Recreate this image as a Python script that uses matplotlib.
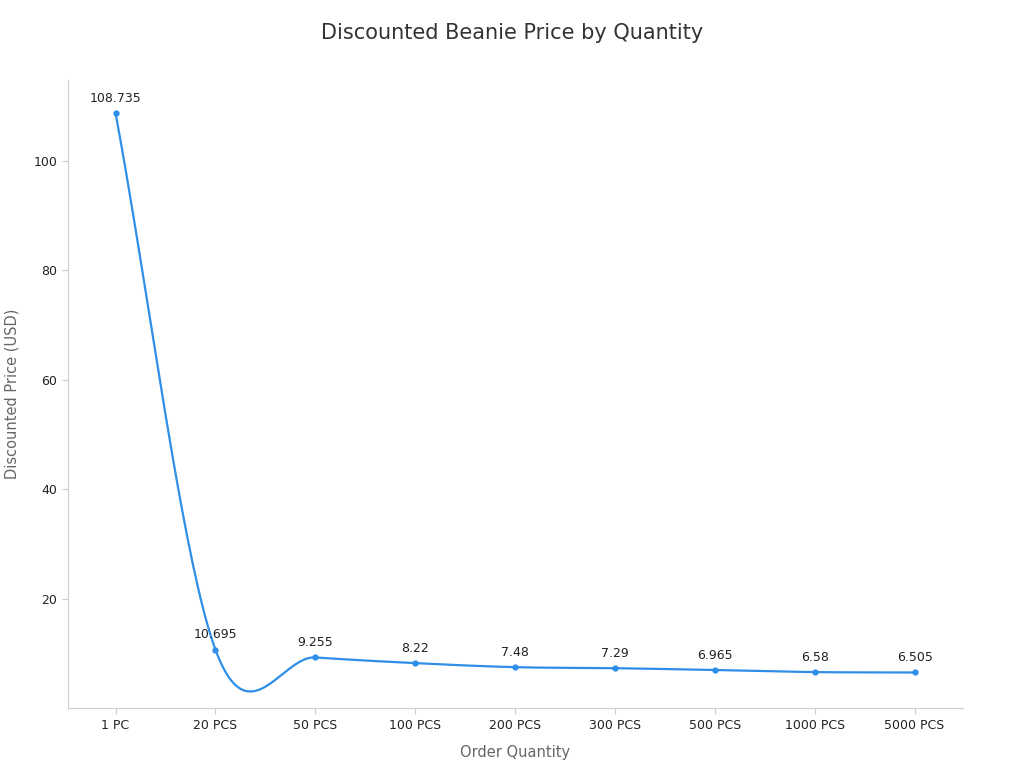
import numpy as np
import matplotlib
matplotlib.use("Agg")
import matplotlib.pyplot as plt

categories = ["1 PC", "20 PCS", "50 PCS", "100 PCS", "200 PCS", "300 PCS", "500 PCS", "1000 PCS", "5000 PCS"]
prices = [108.735, 10.695, 9.255, 8.22, 7.48, 7.29, 6.965, 6.58, 6.505]
labels = ["108.735", "10.695", "9.255", "8.22", "7.48", "7.29", "6.965", "6.58", "6.505"]

COLOR = "#2f8fe8"

def catmull_rom(x, y, n=40):
    # smooth drawing path through the points
    x = np.asarray(x, float); y = np.asarray(y, float)
    px = np.concatenate([[2 * x[0] - x[1]], x, [2 * x[-1] - x[-2]]])
    py = np.concatenate([[2 * y[0] - y[1]], y, [2 * y[-1] - y[-2]]])
    xs, ys = [], []
    t = np.linspace(0, 1, n)
    for i in range(1, len(px) - 2):
        for p, out in ((px, xs), (py, ys)):
            p0, p1, p2, p3 = p[i - 1], p[i], p[i + 1], p[i + 2]
            out.append(0.5 * (2 * p1 + (-p0 + p2) * t + (2 * p0 - 5 * p1 + 4 * p2 - p3) * t**2
                              + (-p0 + 3 * p1 - 3 * p2 + p3) * t**3))
    return np.concatenate(xs), np.concatenate(ys)

x = np.arange(len(categories))
fig, ax = plt.subplots(figsize=(10.24, 7.68), dpi=100)
fig.subplots_adjust(left=0.066, right=0.94, top=0.896, bottom=0.078)

sx, sy = catmull_rom(x, prices)
ax.plot(sx, sy, color=COLOR, lw=1.6)
ax.plot(x, prices, "o", color=COLOR, ms=3.5)
for xi, yi, lb in zip(x, prices, labels):
    ax.annotate(lb, (xi, yi), xytext=(0, 6), textcoords="offset points",
                ha="center", va="bottom", fontsize=9, color="#222222")

ax.set_xticks(x)
ax.set_xticklabels(categories)
ax.set_xlim(-0.48, 8.48)
ax.set_ylim(0, 114.8)
ax.set_yticks([20, 40, 60, 80, 100])
ax.tick_params(labelsize=9, colors="#222222", length=4, color="#cccccc")
for s in ("top", "right"):
    ax.spines[s].set_visible(False)
for s in ("left", "bottom"):
    ax.spines[s].set_color("#cccccc")
ax.set_xlabel("Order Quantity", fontsize=10.5, color="#666666", labelpad=10)
ax.set_ylabel("Discounted Price (USD)", fontsize=10.5, color="#666666", labelpad=10)
fig.suptitle("Discounted Beanie Price by Quantity", fontsize=15, color="#333333", y=0.97)

fig.savefig("out.png")
